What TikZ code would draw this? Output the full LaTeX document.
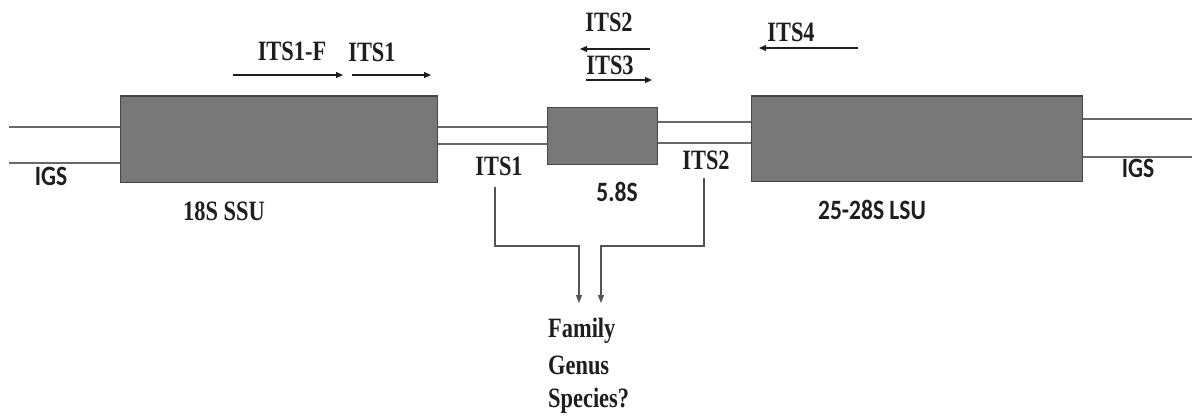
\documentclass[tikz,border=0pt]{standalone}
\usepackage{fontspec}
\setmainfont{Liberation Serif}
\newfontfamily\lblsans{Carlito}
\usetikzlibrary{arrows.meta}
\definecolor{boxfill}{RGB}{120,120,120}
\definecolor{boxedge}{RGB}{70,70,70}
\definecolor{strand}{RGB}{105,105,105}
\definecolor{ink}{RGB}{30,30,30}
\newcommand{\sqz}[1]{\scalebox{0.8}[1]{#1}}
\newcommand{\sqs}[1]{\scalebox{0.84}[1]{#1}}
\tikzset{
  genebox/.style={fill=boxfill, draw=boxedge, line width=0.8pt, inner sep=0pt, anchor=north west},
  strandline/.style={draw=strand, line width=1.5pt},
  primer/.style={draw=ink, line width=1.2pt, -{Triangle[length=7pt,width=6pt]}},
  flowarrow/.style={draw=strand!80!black, line width=1.2pt, -{Triangle[length=8pt,width=6pt]}},
  serlbl/.style={font=\bfseries\fontsize{28}{32}\selectfont, text=ink, inner sep=0pt},
  sanslbl/.style={font=\lblsans\bfseries\fontsize{28}{32}\selectfont, text=ink, inner sep=0pt},
}
\begin{document}
\begin{tikzpicture}[x=1pt,y=-1pt]
\useasboundingbox (0,0) rectangle (1192,417);
% gene boxes
\node[genebox, minimum width=317pt, minimum height=86pt] (ssu) at (120,96) {};
\node[genebox, minimum width=110pt, minimum height=57pt] (s58) at (547,107) {};
\node[genebox, minimum width=331pt, minimum height=85pt] (lsu) at (751,96) {};
\draw[boxedge, line width=2.2pt] (ssu.north west) -- (ssu.north east);
\draw[boxedge, line width=2.2pt] (lsu.north west) -- (lsu.north east);
% strands
\coordinate (la) at (9,127);
\coordinate (lb) at (9,163);
\coordinate (ra) at (1192,119);
\coordinate (rb) at (1192,157);
\draw[strandline] (la) -- (ssu.west |- la);
\draw[strandline] (lb) -- (ssu.west |- lb);
\draw[strandline] (ssu.east |- 0,127) -- (s58.west |- 0,127);
\draw[strandline] (ssu.east |- 0,144) -- (s58.west |- 0,144);
\draw[strandline] (s58.east |- 0,122) -- (lsu.west |- 0,122);
\draw[strandline] (s58.east |- 0,143) -- (lsu.west |- 0,143);
\draw[strandline] (lsu.east |- ra) -- (ra);
\draw[strandline] (lsu.east |- rb) -- (rb);
% primer labels
\node[serlbl] (p1f) at (292,51) {\sqz{ITS1-F}};
\node[serlbl] (p1) at (372,52) {\sqz{ITS1}};
\node[serlbl] (p2) at (609,22) {\sqz{ITS2}};
\node[serlbl] (p3) at (610,65) {\sqz{ITS3}};
\node[serlbl] (p4) at (791,32) {\sqz{ITS4}};
% primer arrows
\coordinate (a1s) at (233,75); \coordinate (a1e) at (343,75);
\coordinate (a2s) at (352,75); \coordinate (a2e) at (431,75);
\coordinate (a3s) at (650,49); \coordinate (a3e) at (580,49);
\coordinate (a4s) at (586,80); \coordinate (a4e) at (652,80);
\coordinate (a5s) at (858,48); \coordinate (a5e) at (759,48);
\draw[primer] (a1s) -- (a1e);
\draw[primer] (a2s) -- (a2e);
\draw[primer] (a3s) -- (a3e);
\draw[primer] (a4s) -- (a4e);
\draw[primer] (a5s) -- (a5e);
% region labels
\node[sanslbl] (igsl) at (51,176) {\sqs{IGS}};
\node[sanslbl] (igsr) at (1138,168) {\sqs{IGS}};
\node[serlbl] (its1) at (499,166) {\sqz{ITS1}};
\node[serlbl] (its2) at (706,160) {\sqz{ITS2}};
\node[sanslbl] (l58) at (617,192) {\sqs{5.8S}};
\node[serlbl] (lssu) at (224,211) {\sqz{18S SSU}};
\node[sanslbl] (llsu) at (872,210) {\sqs{25-28S LSU}};
% result text
\node[serlbl, anchor=base west] (fam) at (548,337) {\sqz{Family}};
\node[serlbl, anchor=base west] (gen) at (548,374) {\sqz{Genus}};
\node[serlbl, anchor=base west] (spe) at (548,407) {\sqz{Species?}};
% flow connectors
\coordinate (f1a) at (495,187);
\coordinate (f1b) at (495,246);
\coordinate (f1c) at (579,246);
\coordinate (f1d) at (579,303);
\coordinate (f2a) at (704,178);
\coordinate (f2b) at (704,246);
\coordinate (f2c) at (601,246);
\coordinate (f2d) at (601,303);
\draw[flowarrow] (f1a) -- (f1b) -- (f1c) -- (f1d);
\draw[flowarrow] (f2a) -- (f2b) -- (f2c) -- (f2d);
\end{tikzpicture}
\end{document}
